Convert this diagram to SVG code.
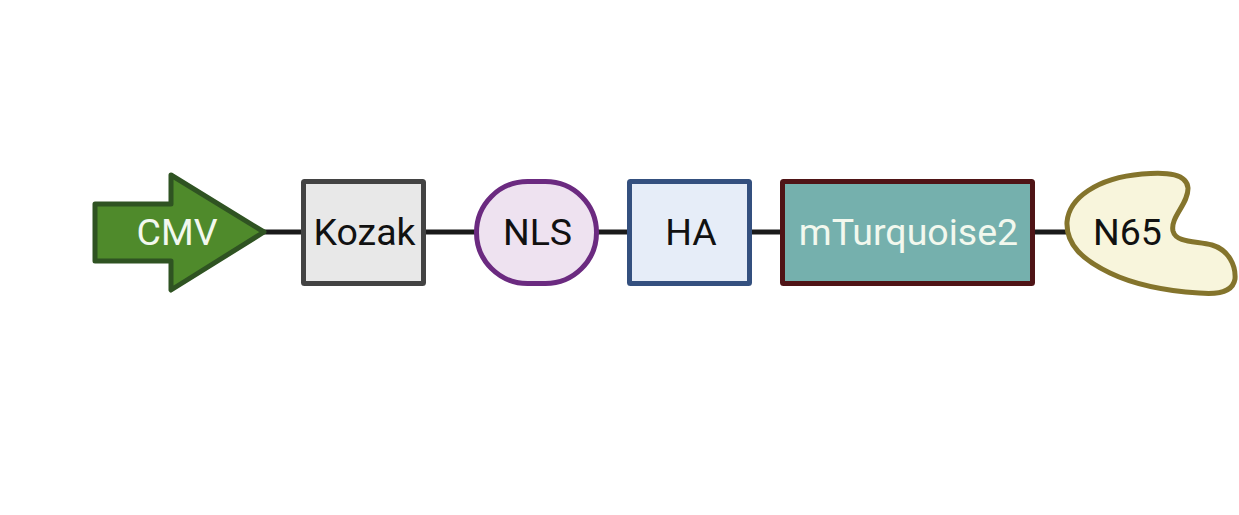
<svg xmlns="http://www.w3.org/2000/svg" width="1239" height="515" viewBox="0 0 1239 515">
<style>
.t{font-family:Roboto,"Liberation Sans",sans-serif;font-size:37.500px;text-anchor:middle}
.k{fill:#111111}.w{fill:#f2f8ee}
.s{stroke-width:5;stroke-linejoin:round}
</style>
<rect width="1239" height="515" fill="#ffffff"/>
<g id="connectors" stroke="#1a1a1a" stroke-width="5" fill="none">
<line x1="264" y1="232" x2="303" y2="232"/>
<line x1="424" y1="232" x2="476" y2="232"/>
<line x1="597" y1="232" x2="629" y2="232"/>
<line x1="750" y1="232" x2="782" y2="232"/>
<line x1="1033" y1="232" x2="1067" y2="232"/>
</g>
<g id="cmv">
<path class="s" d="M95 204H171V175L264 232L171 290V261H95Z" fill="#4f8a2b" stroke="#2f5322"/>
<text class="t w" x="177" y="245">CMV</text>
</g>
<g id="kozak">
<rect class="s" x="303.500" y="181.500" width="120" height="102" rx="1" fill="#e8e8e8" stroke="#434343"/>
<text class="t k" x="364.500" y="245">Kozak</text>
</g>
<g id="nls">
<rect class="s" x="476.500" y="181.500" width="120" height="102" rx="51" ry="51" fill="#eee2f0" stroke="#6b2a80"/>
<text class="t k" x="537.500" y="245">NLS</text>
</g>
<g id="ha">
<rect class="s" x="629.500" y="181.500" width="120" height="102" rx="1" fill="#e6edf8" stroke="#34507f"/>
<text class="t k" x="691" y="245">HA</text>
</g>
<g id="mturquoise2">
<rect class="s" x="782.500" y="181.500" width="250" height="102" rx="1" fill="#75b0ad" stroke="#4f1416"/>
<text class="t w" x="908.500" y="245">mTurquoise2</text>
</g>
<g id="n65">
<path class="s" d="M1067 222C1069 198 1097 178 1142 174C1168 171.500 1187 174 1188 188C1188.500 204 1170 217 1173 231C1176 243 1196 241 1212 245C1229 250 1236 266 1235 279C1233 291 1220 295 1199 293C1168 291 1135 285 1110 273C1083 260 1066 245 1067 222Z" fill="#f8f5dc" stroke="#84742c"/>
<text class="t k" x="1127.500" y="245">N65</text>
</g>
</svg>
